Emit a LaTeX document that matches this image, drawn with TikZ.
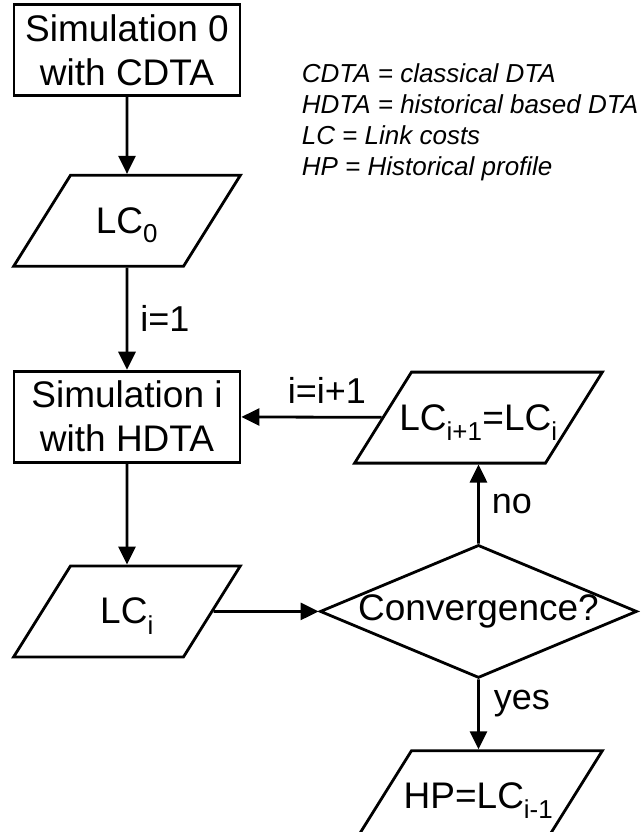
\documentclass[tikz,border=0pt]{standalone}
\usepackage{fontspec}
\setmainfont{Liberation Sans}
\usetikzlibrary{arrows.meta,positioning,shapes.geometric}

\begin{document}
\begin{tikzpicture}[line width=2.8pt, >={Triangle[length=18pt,width=17pt]},
    every node/.style={font=\fontsize{37}{44}\selectfont}]
	\tikzstyle{rect}=[draw, rectangle, minimum width=226pt, minimum height=91pt, align=center, inner sep=0pt]
	\tikzstyle{io}=[draw, trapezium, trapezium left angle=58, trapezium right angle=122,
	  inner sep=0pt, text height=58pt, text depth=33pt]
	\tikzstyle{dia}=[draw, diamond, minimum width=317pt, minimum height=133pt, inner sep=0pt]
	\tikzstyle{lbl}=[inner sep=0pt, font=\fontsize{36}{40}\selectfont]
	\tikzstyle{legendtext}=[inner sep=0pt, align=left, font=\fontsize{26}{31}\selectfont\itshape]

	\useasboundingbox (-127pt,50pt) rectangle (515pt,-782pt);

	\node[rect] (sim0) {Simulation 0\\with CDTA};
	\node[io] (lc0) [below=77pt of sim0] {\makebox[113pt]{LC\textsubscript{0}}};
	\node[rect] (simi) [below=102pt of lc0] {Simulation i\\with HDTA};
	\node[io] (lci) [below=101pt of simi] {\makebox[113pt]{LC\textsubscript{i}}};
	\node[dia] (conv) [right=105pt of lci] {\makebox[0pt]{Convergence?}};
	\node[io] (lcnext) [above=79pt of conv] {\makebox[134pt]{LC\textsubscript{i+1}=LC\textsubscript{i}}};
	\node[io] (hp) [below=70pt of conv] {\makebox[134pt]{HP=LC\textsubscript{i-1}}};

	\node[legendtext, anchor=north west] (legend) at ([xshift=59pt,yshift=-59pt]sim0.north east)
	  {CDTA = classical DTA\\HDTA = historical based DTA\\LC = Link costs\\HP = Historical profile};

	\draw[->] (sim0) -- (lc0);
	\draw[->] (lc0) -- node[lbl, right=12pt] {i=1} (simi);
	\draw[->] (simi) -- (lci);
	\draw[->] (lci) -- (conv);
	\draw[->] (conv) -- node[lbl, right=12pt] {no} (lcnext);
	\draw[->] (lcnext) -- node[lbl, above=12pt, pos=0.39] {i=i+1} (simi);
	\draw[->] (conv) -- node[lbl, right=14pt, pos=0.35] {yes} (hp);
\end{tikzpicture}
\end{document}
